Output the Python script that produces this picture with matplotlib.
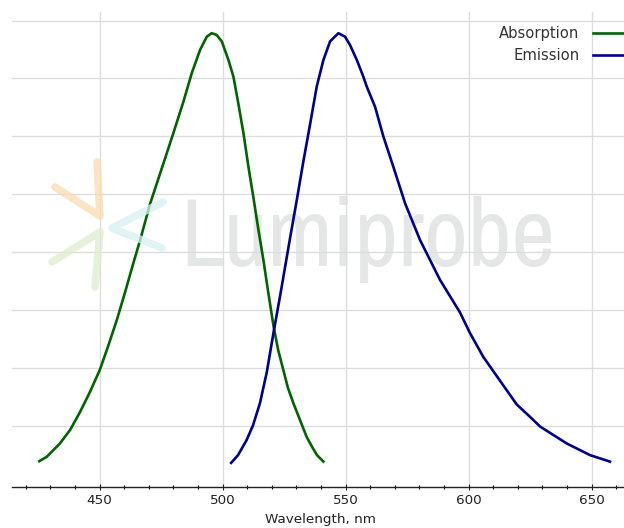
import numpy as np
import matplotlib
matplotlib.use("Agg")
import matplotlib.pyplot as plt
from matplotlib.lines import Line2D
from matplotlib import font_manager

# Spectra (normalised intensity)
abs_wl = [425.5, 428.5, 433.9, 438.0, 442.1, 446.1, 450.1, 453.5, 457.0, 460.4,
          463.7, 466.5, 470.5, 475.9, 480.0, 484.1, 487.5, 490.9, 493.6, 495.6,
          497.6, 499.7, 502.4, 504.4, 506.4, 508.5, 510.5, 512.5, 514.4, 516.6,
          518.5, 520.7, 522.6, 524.7, 526.6, 528.8, 531.5, 534.2, 536.4, 538.4,
          541.0]
abs_int = [0.009, 0.019, 0.050, 0.081, 0.123, 0.169, 0.220, 0.275, 0.335, 0.400,
           0.466, 0.520, 0.603, 0.696, 0.767, 0.840, 0.906, 0.960, 0.990, 0.998,
           0.994, 0.979, 0.936, 0.898, 0.836, 0.767, 0.690, 0.620, 0.550, 0.474,
           0.402, 0.322, 0.266, 0.220, 0.178, 0.143, 0.104, 0.065, 0.042, 0.023,
           0.008]

em_wl = [503.5, 506.3, 509.8, 512.4, 515.2, 518.0, 520.9, 523.4, 526.1, 527.8,
         530.2, 532.8, 535.6, 538.3, 541.0, 543.7, 547.1, 549.8, 551.8, 554.6,
         557.2, 558.6, 562.0, 565.4, 569.4, 574.2, 580.3, 588.4, 596.5, 600.6,
         606.0, 612.8, 619.6, 624.9, 629.1, 639.9, 649.4, 657.5]
em_int = [0.005, 0.023, 0.058, 0.092, 0.143, 0.215, 0.312, 0.391, 0.480, 0.536,
          0.613, 0.700, 0.788, 0.875, 0.936, 0.979, 0.998, 0.990, 0.971, 0.936,
          0.898, 0.875, 0.828, 0.759, 0.690, 0.605, 0.520, 0.428, 0.353, 0.305,
          0.250, 0.195, 0.140, 0.112, 0.089, 0.050, 0.023, 0.008]

W, H = 624, 528
fig = plt.figure(figsize=(W / 100, H / 100), dpi=100)
ax = fig.add_axes([12 / W, (H - 486.7) / H, (628.4 - 12) / W, (486.7 - 12) / H])

ax.plot(abs_wl, abs_int, color="#006400", lw=1.9, label="Absorption", zorder=3)
ax.plot(em_wl, em_int, color="#00008b", lw=1.9, label="Emission", zorder=3)

ax.set_xlim(414.4, 665.0)
ax.set_ylim(-0.05, 1.047)
ax.set_xticks(np.arange(450, 651, 50))
ax.set_xticks(np.arange(420, 661, 10), minor=True)
ax.set_yticks(0.090 + 0.1339 * np.arange(8))
ax.tick_params(axis="y", left=False, labelleft=False)
ax.tick_params(axis="x", which="major", direction="inout", length=5, width=0.8,
               labelsize=9.7, pad=3, colors="#222222")
ax.tick_params(axis="x", which="minor", direction="inout", length=3.5, width=0.8)
ax.grid(True, which="major", color="#dddddd", lw=1.0, zorder=0)
for s in ["left", "right", "top"]:
    ax.spines[s].set_visible(False)
ax.spines["bottom"].set_linewidth(1.0)
ax.spines["bottom"].set_color("#222222")
ax.set_xlabel("Wavelength, nm", fontsize=9.7, labelpad=4, color="#222222")

# watermark: pick a narrow face if one is installed
names = sorted({f.name for f in font_manager.fontManager.ttflist})
narrow = [n for n in names if "Condensed" in n or "Narrow" in n]
wm_family = narrow[:1] + ["Roboto", "DejaVu Sans"]
wm = ax.text(180 / W, 1 - 266 / H, "Lumiprobe", transform=fig.transFigure,
             fontsize=60, family=wm_family, color="#d4d6d6", alpha=0.6,
             ha="left", va="baseline", zorder=1)
fig.canvas.draw()
wm_w = wm.get_window_extent().width
wm.set_fontsize(60 * 375 / wm_w)

logo = [
    ("#f8dcb4", [(55, 187), (100, 216), (97, 162)]),
    ("#d8f0f2", [(163, 202), (112, 228), (162, 248)]),
    ("#dfecd0", [(52, 262), (100, 232), (95, 287)]),
]
for col, pts in logo:
    xs = [p[0] / W for p in pts]
    ys = [1 - p[1] / H for p in pts]
    fig.add_artist(Line2D(xs, ys, transform=fig.transFigure, color=col, lw=5.5,
                          solid_capstyle="round", solid_joinstyle="round",
                          alpha=0.75, zorder=0.5))

leg = ax.legend(loc="upper right", bbox_to_anchor=(630 / W, 1 - 26 / H),
                bbox_transform=fig.transFigure, frameon=False, markerfirst=False,
                fontsize=10.6, handlelength=2.5, handletextpad=0.95,
                labelspacing=0.5, borderpad=0, borderaxespad=0)
for t in leg.get_texts():
    t.set_color("#333333")

fig.savefig("out.png", dpi=100)
